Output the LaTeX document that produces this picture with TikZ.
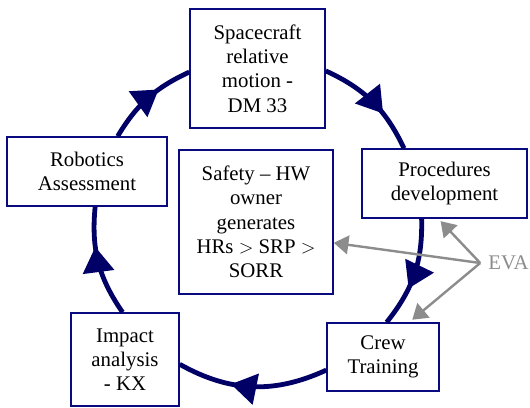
\documentclass[tikz,border=0pt]{standalone}
\usepackage{fontspec}
\setmainfont{Liberation Serif}
\usepackage{tikz}
\usetikzlibrary{positioning, arrows.meta, decorations.markings}

\definecolor{ringblue}{RGB}{0,0,102}
\definecolor{boxblue}{RGB}{10,10,128}
\definecolor{evagray}{RGB}{140,140,140}

\begin{document}
\begin{tikzpicture}[x=0.75pt,y=0.75pt,yscale=-1,xscale=1,
    every node/.style={font=\fontsize{15.6}{18.2}\selectfont, align=center},
    stepbox/.style={draw=boxblue, line width=1.1pt, fill=white, inner sep=2pt},
    ring/.style={draw=ringblue, line width=3.6pt, postaction={decorate},
        decoration={markings, mark=at position 0.64 with {\arrow[ringblue]{Triangle[length=19pt,width=23pt]}}}},
    evaline/.style={draw=evagray, line width=1.8pt, -{Triangle[length=11pt,width=14pt]}}]
    \useasboundingbox (0,0) rectangle (530,407);

    % boxes of the cycle
    \node (S) at (257.5,68.5) [stepbox, minimum width=101.25pt, minimum height=89.25pt] {Spacecraft\\relative\\motion -\\DM 33};
    \node (P) at (444.5,183.5) [stepbox, minimum width=123.75pt, minimum height=51.75pt] {Procedures\\development};
    \node (C) at (383,357) [stepbox, minimum width=84pt, minimum height=51pt] {Crew\\Training};
    \node (I) at (125,359.5) [stepbox, minimum width=81pt, minimum height=69.75pt] {Impact\\analysis\\- KX};
    \node (R) at (87,171.5) [stepbox, minimum width=120pt, minimum height=51.75pt] {Robotics\\Assessment};
    \node (H) at (256,222) [stepbox, minimum width=115.5pt, minimum height=108pt] {Safety -- HW\\owner\\generates\\HRs $>$ SRP $>$\\SORR};
    \node (EVA) at (508.5,263) [text=evagray, inner sep=6pt] {EVA};

    % the ring
    \draw[ring] (S.-2) to[bend right=20] (P.139);
    \draw[ring] (P.-123) to[bend right=20] (C.84);
    \draw[ring] (C.193) to[bend right=27] (I.-5);
    \draw[ring] (I.93) to[bend right=20] (R.-77);
    \draw[ring] (R.49) to[bend right=17] (S.183);

    % EVA pointers
    \draw[evaline, shorten >=2.5pt] (EVA.west) -- (P.-100);
    \draw[evaline] (EVA.west) -- (H.-15);
    \draw[evaline, shorten >=3pt] (EVA.west) -- (C.53);
\end{tikzpicture}
\end{document}
